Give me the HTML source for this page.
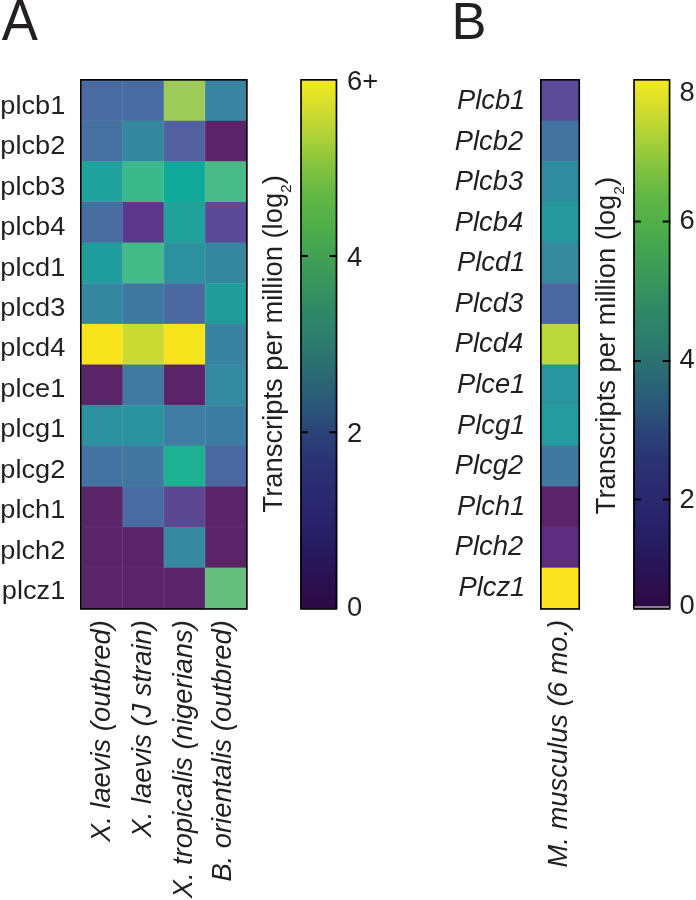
<!DOCTYPE html>
<html lang="en"><head><meta charset="utf-8"><title>Figure</title>
<style>html,body{margin:0;padding:0;background:#fff;}body{width:696px;height:900px;overflow:hidden;}svg{display:block;filter:blur(0.35px);}text{font-family:"Liberation Sans",Arial,Helvetica,sans-serif;fill:#231f20;}.it{font-style:italic;}</style></head><body>
<svg width="696" height="900" viewBox="0 0 696 900">
<defs><linearGradient id="cb" x1="0" y1="0" x2="0" y2="1">
<stop offset="0.0038" stop-color="#f2e822"/>
<stop offset="0.0492" stop-color="#d5de2c"/>
<stop offset="0.1060" stop-color="#b0d236"/>
<stop offset="0.1628" stop-color="#85c340"/>
<stop offset="0.2195" stop-color="#62b745"/>
<stop offset="0.2763" stop-color="#4fae49"/>
<stop offset="0.3331" stop-color="#41a154"/>
<stop offset="0.3899" stop-color="#38935e"/>
<stop offset="0.4466" stop-color="#2f8568"/>
<stop offset="0.5034" stop-color="#2c7a6c"/>
<stop offset="0.5488" stop-color="#2b6c72"/>
<stop offset="0.6056" stop-color="#2a5a78"/>
<stop offset="0.6643" stop-color="#2b4478"/>
<stop offset="0.7210" stop-color="#2b3273"/>
<stop offset="0.7778" stop-color="#2b2a70"/>
<stop offset="0.8346" stop-color="#28226a"/>
<stop offset="0.8914" stop-color="#261a5e"/>
<stop offset="0.9500" stop-color="#2a104f"/>
<stop offset="0.9955" stop-color="#2d0a45"/>
</linearGradient></defs>
<rect width="696" height="900" fill="#fff"/>
<text transform="translate(1.7,39.8) scale(0.955,1)" font-size="56.7">A</text>
<text x="451.6" y="39.3" font-size="52.5">B</text>
<rect x="81.40" y="80.10" width="41.72" height="41.13" fill="#4a6ba2"/>
<rect x="122.62" y="80.10" width="41.72" height="41.13" fill="#4a6ba2"/>
<rect x="163.84" y="80.10" width="41.72" height="41.13" fill="#9ccb5a"/>
<rect x="205.06" y="80.10" width="41.72" height="41.13" fill="#3a84a2"/>
<rect x="81.40" y="120.73" width="41.72" height="41.13" fill="#46709f"/>
<rect x="122.62" y="120.73" width="41.72" height="41.13" fill="#34879d"/>
<rect x="163.84" y="120.73" width="41.72" height="41.13" fill="#5260a0"/>
<rect x="205.06" y="120.73" width="41.72" height="41.13" fill="#5a2469"/>
<rect x="81.40" y="161.36" width="41.72" height="41.13" fill="#1fa39c"/>
<rect x="122.62" y="161.36" width="41.72" height="41.13" fill="#3cb98c"/>
<rect x="163.84" y="161.36" width="41.72" height="41.13" fill="#10a99a"/>
<rect x="205.06" y="161.36" width="41.72" height="41.13" fill="#46bb88"/>
<rect x="81.40" y="201.99" width="41.72" height="41.13" fill="#486c9f"/>
<rect x="122.62" y="201.99" width="41.72" height="41.13" fill="#5c388c"/>
<rect x="163.84" y="201.99" width="41.72" height="41.13" fill="#22a19a"/>
<rect x="205.06" y="201.99" width="41.72" height="41.13" fill="#5a4a96"/>
<rect x="81.40" y="242.62" width="41.72" height="41.13" fill="#1f9d9c"/>
<rect x="122.62" y="242.62" width="41.72" height="41.13" fill="#45ba89"/>
<rect x="163.84" y="242.62" width="41.72" height="41.13" fill="#2c909e"/>
<rect x="205.06" y="242.62" width="41.72" height="41.13" fill="#35879f"/>
<rect x="81.40" y="283.25" width="41.72" height="41.13" fill="#35869f"/>
<rect x="122.62" y="283.25" width="41.72" height="41.13" fill="#3f78a0"/>
<rect x="163.84" y="283.25" width="41.72" height="41.13" fill="#4b68a1"/>
<rect x="205.06" y="283.25" width="41.72" height="41.13" fill="#209c9b"/>
<rect x="81.40" y="323.88" width="41.72" height="41.13" fill="#f8e41c"/>
<rect x="122.62" y="323.88" width="41.72" height="41.13" fill="#c9db33"/>
<rect x="163.84" y="323.88" width="41.72" height="41.13" fill="#f8e41c"/>
<rect x="205.06" y="323.88" width="41.72" height="41.13" fill="#3a82a1"/>
<rect x="81.40" y="364.51" width="41.72" height="41.13" fill="#5a2469"/>
<rect x="122.62" y="364.51" width="41.72" height="41.13" fill="#4179a1"/>
<rect x="163.84" y="364.51" width="41.72" height="41.13" fill="#5a2469"/>
<rect x="205.06" y="364.51" width="41.72" height="41.13" fill="#348a9f"/>
<rect x="81.40" y="405.14" width="41.72" height="41.13" fill="#2c919e"/>
<rect x="122.62" y="405.14" width="41.72" height="41.13" fill="#2a939e"/>
<rect x="163.84" y="405.14" width="41.72" height="41.13" fill="#3f7da2"/>
<rect x="205.06" y="405.14" width="41.72" height="41.13" fill="#3e7da2"/>
<rect x="81.40" y="445.77" width="41.72" height="41.13" fill="#4273a2"/>
<rect x="122.62" y="445.77" width="41.72" height="41.13" fill="#41779f"/>
<rect x="163.84" y="445.77" width="41.72" height="41.13" fill="#1db192"/>
<rect x="205.06" y="445.77" width="41.72" height="41.13" fill="#4b67a1"/>
<rect x="81.40" y="486.40" width="41.72" height="41.13" fill="#5a2469"/>
<rect x="122.62" y="486.40" width="41.72" height="41.13" fill="#4a6aa3"/>
<rect x="163.84" y="486.40" width="41.72" height="41.13" fill="#5b4691"/>
<rect x="205.06" y="486.40" width="41.72" height="41.13" fill="#5a2469"/>
<rect x="81.40" y="527.03" width="41.72" height="41.13" fill="#5a2469"/>
<rect x="122.62" y="527.03" width="41.72" height="41.13" fill="#5a2469"/>
<rect x="163.84" y="527.03" width="41.72" height="41.13" fill="#358a9f"/>
<rect x="205.06" y="527.03" width="41.72" height="41.13" fill="#5a2469"/>
<rect x="81.40" y="567.66" width="41.72" height="41.13" fill="#5a2469"/>
<rect x="122.62" y="567.66" width="41.72" height="41.13" fill="#5a2469"/>
<rect x="163.84" y="567.66" width="41.72" height="41.13" fill="#5a2469"/>
<rect x="205.06" y="567.66" width="41.72" height="41.13" fill="#66bf7e"/>
<path d="M122.62 80v528.5" stroke="#fff" stroke-opacity=".13" stroke-width=".9"/>
<path d="M163.84 80v528.5" stroke="#fff" stroke-opacity=".13" stroke-width=".9"/>
<path d="M205.06 80v528.5" stroke="#fff" stroke-opacity=".13" stroke-width=".9"/>
<path d="M81 120.73h166" stroke="#fff" stroke-opacity=".05" stroke-width=".9"/>
<path d="M81 161.36h166" stroke="#fff" stroke-opacity=".05" stroke-width=".9"/>
<path d="M81 201.99h166" stroke="#fff" stroke-opacity=".05" stroke-width=".9"/>
<path d="M81 242.62h166" stroke="#fff" stroke-opacity=".05" stroke-width=".9"/>
<path d="M81 283.25h166" stroke="#fff" stroke-opacity=".05" stroke-width=".9"/>
<path d="M81 323.88h166" stroke="#fff" stroke-opacity=".05" stroke-width=".9"/>
<path d="M81 364.51h166" stroke="#fff" stroke-opacity=".05" stroke-width=".9"/>
<path d="M81 405.14h166" stroke="#fff" stroke-opacity=".05" stroke-width=".9"/>
<path d="M81 445.77h166" stroke="#fff" stroke-opacity=".05" stroke-width=".9"/>
<path d="M81 486.40h166" stroke="#fff" stroke-opacity=".05" stroke-width=".9"/>
<path d="M81 527.03h166" stroke="#fff" stroke-opacity=".05" stroke-width=".9"/>
<path d="M81 567.66h166" stroke="#fff" stroke-opacity=".05" stroke-width=".9"/>
<rect x="80.85" y="79.85" width="166" height="529.1" fill="none" stroke="#000" stroke-width="1.65"/>
<text transform="translate(65.3,113.80) scale(1.03,1)" font-size="26.4" text-anchor="end">plcb1</text>
<text transform="translate(65.3,154.23) scale(1.03,1)" font-size="26.4" text-anchor="end">plcb2</text>
<text transform="translate(65.3,194.66) scale(1.03,1)" font-size="26.4" text-anchor="end">plcb3</text>
<text transform="translate(65.3,235.09) scale(1.03,1)" font-size="26.4" text-anchor="end">plcb4</text>
<text transform="translate(65.3,275.52) scale(1.03,1)" font-size="26.4" text-anchor="end">plcd1</text>
<text transform="translate(65.3,315.95) scale(1.03,1)" font-size="26.4" text-anchor="end">plcd3</text>
<text transform="translate(65.3,356.38) scale(1.03,1)" font-size="26.4" text-anchor="end">plcd4</text>
<text transform="translate(65.3,396.81) scale(1.03,1)" font-size="26.4" text-anchor="end">plce1</text>
<text transform="translate(65.3,437.24) scale(1.03,1)" font-size="26.4" text-anchor="end">plcg1</text>
<text transform="translate(65.3,477.67) scale(1.03,1)" font-size="26.4" text-anchor="end">plcg2</text>
<text transform="translate(65.3,518.10) scale(1.03,1)" font-size="26.4" text-anchor="end">plch1</text>
<text transform="translate(65.3,558.53) scale(1.03,1)" font-size="26.4" text-anchor="end">plch2</text>
<text transform="translate(65.3,598.96) scale(1.03,1)" font-size="26.4" text-anchor="end">plcz1</text>
<text class="it" transform="translate(110.3,620.2) rotate(-90)" font-size="27.35" text-anchor="end">X. laevis (outbred)</text>
<text class="it" transform="translate(150.8,620.2) rotate(-90)" font-size="27.35" text-anchor="end">X. laevis (J strain)</text>
<text class="it" transform="translate(191.7,620.2) rotate(-90)" font-size="27.35" text-anchor="end">X. tropicalis (nigerians)</text>
<text class="it" transform="translate(231.2,620.2) rotate(-90)" font-size="27.35" text-anchor="end">B. orientalis (outbred)</text>
<rect x="300.2" y="79.8" width="37.10000000000002" height="528.8" fill="url(#cb)"/>
<rect x="301.05" y="79.85" width="35.40000000000002" height="529.1" fill="none" stroke="#000" stroke-width="1.65"/>
<path d="M300.2 256.1h7.6M337.3 256.1h-7.6" stroke="#000" stroke-width="2" fill="none"/>
<path d="M300.2 432.3h7.6M337.3 432.3h-7.6" stroke="#000" stroke-width="2" fill="none"/>
<text x="347" y="90.2" font-size="27.35">6+</text>
<text x="347" y="265.9" font-size="27.35">4</text>
<text x="347" y="442" font-size="27.35">2</text>
<text x="347" y="616.2" font-size="27.35">0</text>
<text transform="translate(282,512.5) rotate(-90)" font-size="27.35">Transcripts per million (log<tspan font-size="15.5" dy="9.3">2</tspan><tspan dy="-9.3">)</tspan></text>
<rect x="541" y="80.10" width="38.3" height="41.13" fill="#5a4a97"/>
<rect x="541" y="120.73" width="38.3" height="41.13" fill="#43749f"/>
<rect x="541" y="161.36" width="38.3" height="41.13" fill="#2e8c9e"/>
<rect x="541" y="201.99" width="38.3" height="41.13" fill="#25989d"/>
<rect x="541" y="242.62" width="38.3" height="41.13" fill="#378a9e"/>
<rect x="541" y="283.25" width="38.3" height="41.13" fill="#4a68a1"/>
<rect x="541" y="323.88" width="38.3" height="41.13" fill="#bcd83a"/>
<rect x="541" y="364.51" width="38.3" height="41.13" fill="#28959f"/>
<rect x="541" y="405.14" width="38.3" height="41.13" fill="#249b9c"/>
<rect x="541" y="445.77" width="38.3" height="41.13" fill="#41789f"/>
<rect x="541" y="486.40" width="38.3" height="41.13" fill="#5a2469"/>
<rect x="541" y="527.03" width="38.3" height="41.13" fill="#5d2e80"/>
<rect x="541" y="567.66" width="38.3" height="41.13" fill="#fbe422"/>
<rect x="540.85" y="79.85" width="38.4" height="529.1" fill="none" stroke="#000" stroke-width="1.65"/>
<text class="it" x="525.3" y="109.20" font-size="27.35" text-anchor="end">Plcb1</text>
<text class="it" x="523.2" y="149.74" font-size="27.35" text-anchor="end">Plcb2</text>
<text class="it" x="523.2" y="190.28" font-size="27.35" text-anchor="end">Plcb3</text>
<text class="it" x="523.2" y="230.82" font-size="27.35" text-anchor="end">Plcb4</text>
<text class="it" x="525.3" y="271.36" font-size="27.35" text-anchor="end">Plcd1</text>
<text class="it" x="523.2" y="311.90" font-size="27.35" text-anchor="end">Plcd3</text>
<text class="it" x="523.2" y="352.44" font-size="27.35" text-anchor="end">Plcd4</text>
<text class="it" x="525.3" y="392.98" font-size="27.35" text-anchor="end">Plce1</text>
<text class="it" x="525.3" y="433.52" font-size="27.35" text-anchor="end">Plcg1</text>
<text class="it" x="523.2" y="474.06" font-size="27.35" text-anchor="end">Plcg2</text>
<text class="it" x="525.3" y="514.60" font-size="27.35" text-anchor="end">Plch1</text>
<text class="it" x="523.2" y="555.14" font-size="27.35" text-anchor="end">Plch2</text>
<text class="it" x="525.3" y="595.68" font-size="27.35" text-anchor="end">Plcz1</text>
<text class="it" transform="translate(567,619.8) rotate(-90)" font-size="27.35" text-anchor="end">M. musculus (6 mo.)</text>
<rect x="633.2" y="79.8" width="37.19999999999993" height="528.8" fill="url(#cb)"/>
<rect x="634.0500000000001" y="79.85" width="35.49999999999993" height="529.1" fill="none" stroke="#000" stroke-width="1.65"/>
<path d="M633.2 221.6h7.6M670.4 221.6h-7.6" stroke="#000" stroke-width="2" fill="none"/>
<path d="M633.2 361h7.6M670.4 361h-7.6" stroke="#000" stroke-width="2" fill="none"/>
<path d="M633.2 499.5h7.6M670.4 499.5h-7.6" stroke="#000" stroke-width="2" fill="none"/>
<text x="679.5" y="101" font-size="27.35">8</text>
<text x="679.5" y="228.5" font-size="27.35">6</text>
<text x="679.5" y="368" font-size="27.35">4</text>
<text x="679.5" y="507.5" font-size="27.35">2</text>
<text x="679.5" y="614" font-size="27.35">0</text>
<path d="M634.5 607h34.6" stroke="#aaa" stroke-width="1.4"/>
<text transform="translate(614.5,514.3) rotate(-90)" font-size="27.35">Transcripts per million (log<tspan font-size="15.5" dy="9.3">2</tspan><tspan dy="-9.3">)</tspan></text>
</svg></body></html>
